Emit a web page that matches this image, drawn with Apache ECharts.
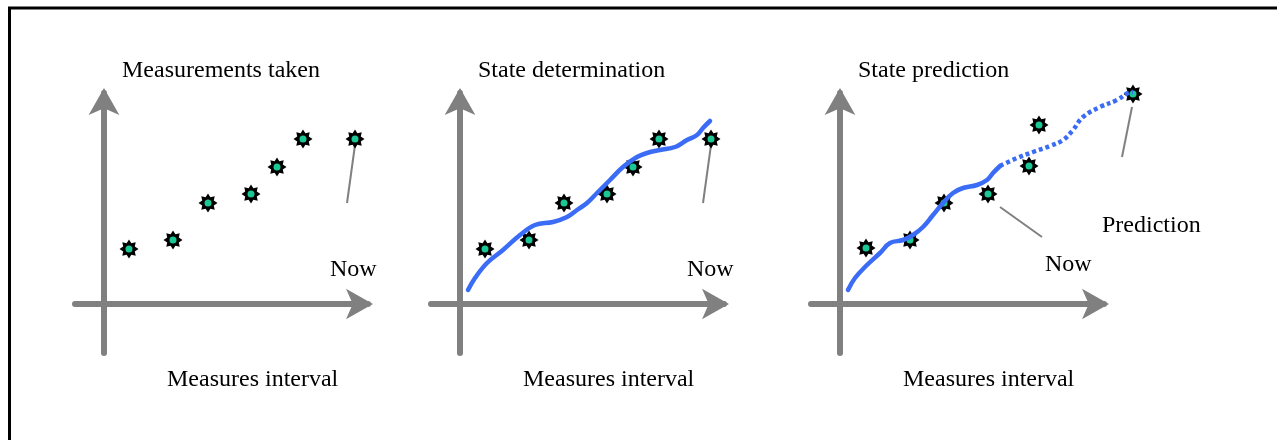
<!DOCTYPE html>
<html>
<head>
<meta charset="utf-8">
<script src="https://cdn.jsdelivr.net/npm/echarts@6/dist/echarts.min.js"></script>
<style>
html,body{margin:0;padding:0;background:#fff;}
#chart{width:1277px;height:440px;}
</style>
</head>
<body>
<div id="chart"></div>
<script>
// ---- data (values relative to each panel's axis origin) ----
const titles = ['Measurements taken', 'State determination', 'State prediction'];
const xAxisNames = ['Measures interval', 'Measures interval', 'Measures interval'];
const nowLabel = 'Now';
const predictionLabel = 'Prediction';

const measX = [25, 69, 104, 147, 173, 199, 251];
const measY = [55, 64, 101, 110, 137, 165, 165];

const predMeasX = [26, 70, 104, 148, 189, 199, 293];
const predMeasY = [56, 64, 101, 110, 138, 179, 210];

const stateX = [8, 15, 27, 43, 60, 75, 93, 107, 117, 127, 137, 150, 163, 177, 187, 200, 215, 227, 237, 243, 250];
const stateY = [14, 26, 41, 54, 69, 79, 82, 87, 94, 101, 111, 124, 137, 147, 151, 154, 157, 164, 169, 176, 183];

const predSolidX = [8, 15, 27, 40, 50, 63, 73, 83, 93, 103, 113, 123, 137, 147, 153, 160];
const predSolidY = [14, 26, 39, 51, 61, 64, 69, 77, 89, 101, 111, 116, 119, 124, 131, 138];

const predDotX = [160, 177, 193, 210, 223, 233, 243, 260, 277, 288, 293];
const predDotY = [138, 146, 152, 158, 164, 174, 187, 197, 204, 211, 212];

const nowPtrX = [251, 243];
const nowPtrY = [159, 101];
const nowPtr3X = [160, 202];
const nowPtr3Y = [97, 67];
const predPtrX = [292, 282];
const predPtrY = [197, 147];

// ---- helpers ----
function zip(xs, ys) { return xs.map((x, i) => [x, ys[i]]); }
function gearPath() {
  let d = '';
  for (let i = 0; i < 16; i++) {
    const a = i * Math.PI / 8 - Math.PI / 2;
    const r = i % 2 === 0 ? 10 : 6.6;
    d += (i ? 'L' : 'M') + (r * Math.cos(a)).toFixed(2) + ',' + (r * Math.sin(a)).toFixed(2);
  }
  return 'path://' + d + 'Z';
}
const GEAR = gearPath();
const GRAY = '#808080';
const BLUE = '#3b6cf5';
const GREEN = '#1cc796';
const FONT = '"Liberation Serif", "Times New Roman", serif';

const origins = [104, 460, 840];

// visible axis grids (0..2) and one wider, hidden data grid (3) for the prediction panel
const grids = origins.map(o => ({ left: o - 29, top: 93, width: 293, height: 260 }));
grids.push({ left: origins[2] - 29, top: 58, width: 338, height: 295 });

const axisLineStyle = { onZero: true, symbol: ['none', 'arrow'], symbolSize: [23, 27], symbolOffset: [0, 5], lineStyle: { color: GRAY, width: 6 } };
const hidden = { axisTick: { show: false }, axisLabel: { show: false }, splitLine: { show: false } };
const xAxes = [0, 1, 2].map(i => Object.assign({ gridIndex: i, type: 'value', min: -29, max: 264, axisLine: axisLineStyle }, hidden));
const yAxes = [0, 1, 2].map(i => Object.assign({ gridIndex: i, type: 'value', min: -49, max: 211, axisLine: axisLineStyle }, hidden));
xAxes.push(Object.assign({ gridIndex: 3, type: 'value', min: -29, max: 309, axisLine: { show: false } }, hidden));
yAxes.push(Object.assign({ gridIndex: 3, type: 'value', min: -49, max: 246, axisLine: { show: false } }, hidden));

function stars(i, xs, ys) {
  return [
    { type: 'scatter', xAxisIndex: i, yAxisIndex: i, clip: false, silent: true, z: 3,
      symbol: GEAR, symbolSize: 19, itemStyle: { color: '#000', opacity: 1 }, data: zip(xs, ys) },
    { type: 'scatter', xAxisIndex: i, yAxisIndex: i, clip: false, silent: true, z: 4,
      symbol: 'circle', symbolSize: 7, itemStyle: { color: GREEN, opacity: 1 }, data: zip(xs, ys) }
  ];
}
function line(i, xs, ys, style, z) {
  return { type: 'line', xAxisIndex: i, yAxisIndex: i, clip: false, silent: true, z: z || 5,
    symbol: 'none', smooth: style.smooth || false, lineStyle: style.lineStyle, data: zip(xs, ys) };
}
const ptrStyle = { lineStyle: { color: GRAY, width: 2 } };

const series = [
  ...stars(0, measX, measY),
  line(0, nowPtrX, nowPtrY, ptrStyle, 2),
  ...stars(1, measX, measY),
  line(1, nowPtrX, nowPtrY, ptrStyle, 2),
  line(1, stateX, stateY, { smooth: 0.4, lineStyle: { color: BLUE, width: 4.5, cap: 'round' } }),
  ...stars(3, predMeasX, predMeasY),
  line(3, nowPtr3X, nowPtr3Y, ptrStyle, 2),
  line(3, predPtrX, predPtrY, ptrStyle, 2),
  line(3, predSolidX, predSolidY, { smooth: 0.4, lineStyle: { color: BLUE, width: 4.5, cap: 'round' } }),
  line(3, predDotX, predDotY, { smooth: 0.4, lineStyle: { color: BLUE, width: 4.5, type: [4, 3] } })
];

function txt(x, y, s) {
  return { type: 'text', left: x, top: y - 14, style: { text: s, font: '24px ' + FONT, fill: '#000' } };
}
const graphic = [
  { type: 'rect', shape: { x: 9.5, y: 8, width: 1400, height: 600 }, style: { fill: 'none', stroke: '#000', lineWidth: 3 }, silent: true },
  txt(122, 73, titles[0]), txt(478, 73, titles[1]), txt(858, 73, titles[2]),
  txt(330, 272, nowLabel), txt(687, 272, nowLabel), txt(1045, 267, nowLabel),
  txt(1102, 228, predictionLabel),
  txt(167, 382, xAxisNames[0]), txt(523, 382, xAxisNames[1]), txt(903, 382, xAxisNames[2])
];

const chart = echarts.init(document.getElementById('chart'), null, { renderer: 'canvas' });
chart.setOption({
  animation: false,
  backgroundColor: '#fff',
  grid: grids, xAxis: xAxes, yAxis: yAxes,
  series: series,
  graphic: graphic
});
</script>
</body>
</html>
